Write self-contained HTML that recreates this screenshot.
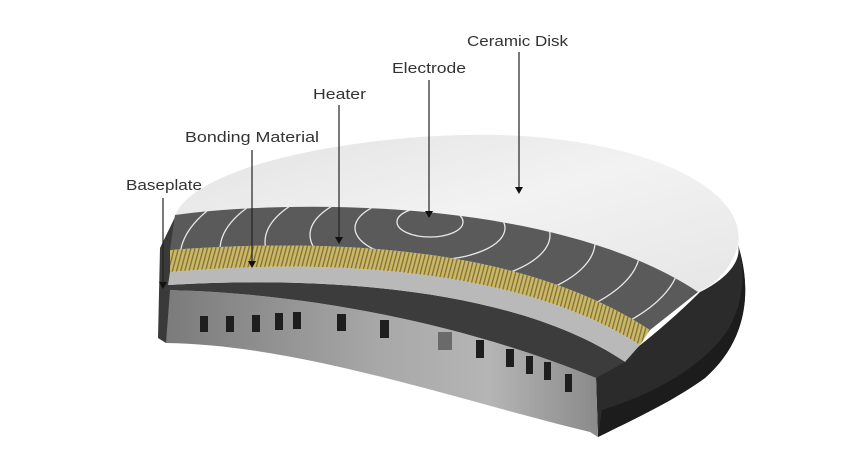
<!DOCTYPE html>
<html><head><meta charset="utf-8"><style>
html,body{margin:0;padding:0;background:#fff;}
svg{display:block;}
text{font-family:"Liberation Sans",sans-serif;font-size:15px;fill:#333;}
</style></head><body>
<svg width="861" height="465" viewBox="0 0 861 465" xmlns="http://www.w3.org/2000/svg">
<defs>
<linearGradient id="wall" x1="0" y1="0" x2="1" y2="0">
<stop offset="0" stop-color="#7a7a7a"/><stop offset="0.5" stop-color="#a8a8a8"/><stop offset="0.75" stop-color="#b5b5b5"/><stop offset="1" stop-color="#8a8a8a"/>
</linearGradient>
<linearGradient id="disk" x1="0" y1="0" x2="1" y2="1">
<stop offset="0" stop-color="#e2e2e2"/><stop offset="0.5" stop-color="#f2f2f2"/><stop offset="1" stop-color="#e6e6e6"/>
</linearGradient>
<pattern id="heat" width="4" height="10" patternUnits="userSpaceOnUse" patternTransform="rotate(15)">
<rect width="4" height="10" fill="#cdb963"/><rect width="1.3" height="10" fill="#7d7040"/>
</pattern>
<clipPath id="band"><path d="M175 215 C300 198 560 200 698 292 L650 330 C520 245 330 238 170 250 Z"/></clipPath>
</defs>

<!-- outer black rim -->
<path d="M700 292 C725 280 742 262 738 245 C752 290 748 340 705 378 C672 402 632 420 598 437 L596 378 C622 360 662 330 700 292 Z" fill="#2b2b2b"/>
<path d="M738 245 C752 290 748 340 705 378 C672 402 632 420 598 437 L602 410 C650 395 700 370 728 330 C745 300 745 270 738 245Z" fill="#1c1c1c"/>

<!-- white disk -->
<path d="M175 215 C200 160 380 132 500 135 C650 140 748 190 738 245 C732 268 715 285 698 292 C560 200 300 198 175 215 Z" fill="url(#disk)"/>

<!-- inner wall -->
<path d="M162 290 C300 292 460 322 596 378 L598 437 L590 432 C450 398 300 345 166 343 Z" fill="url(#wall)"/>
<!-- left cut face -->
<path d="M160 248 L176 215 L170 290 L166 343 L158 338 Z" fill="#3a3a3a"/>

<!-- base plate dark band -->
<path d="M168 285 C330 275 520 290 625 362 L596 378 C460 322 300 292 162 290 Z" fill="#3c3c3c"/>
<!-- bonding light gray -->
<path d="M170 272 C330 258 520 268 640 345 L625 362 C520 290 330 275 168 285 Z" fill="#b9b9b9"/>
<!-- heater -->
<path d="M170 250 C330 238 520 245 650 330 L640 345 C520 268 330 258 170 272 Z" fill="url(#heat)"/>
<!-- electrode band -->
<path d="M175 215 C300 198 560 200 698 292 L650 330 C520 245 330 238 170 250 Z" fill="#5a5a5a"/>
<g clip-path="url(#band)" fill="none" stroke="#e8e8e8" stroke-width="1.3">
<ellipse cx="430" cy="222" rx="33" ry="15"/>
<ellipse cx="430" cy="228" rx="75" ry="32"/>
<ellipse cx="430" cy="235" rx="120" ry="50"/>
<ellipse cx="430" cy="242" rx="165" ry="68"/>
<ellipse cx="430" cy="250" rx="210" ry="86"/>
<ellipse cx="430" cy="258" rx="250" ry="104"/>
<ellipse cx="430" cy="266" rx="290" ry="122"/>
<ellipse cx="430" cy="274" rx="330" ry="140"/>
</g>

<!-- slots -->
<g fill="#1e1e1e">
<rect x="200" y="316" width="8" height="16"/>
<rect x="226" y="316" width="8" height="16"/>
<rect x="252" y="315" width="8" height="17"/>
<rect x="275" y="313" width="8" height="17"/>
<rect x="293" y="312" width="8" height="17"/>
<rect x="337" y="314" width="9" height="17"/>
<rect x="380" y="320" width="9" height="18"/>
<rect x="438" y="332" width="14" height="18" fill="#6a6a6a"/>
<rect x="476" y="340" width="8" height="18"/>
<rect x="506" y="349" width="8" height="18"/>
<rect x="526" y="356" width="7" height="18"/>
<rect x="544" y="362" width="7" height="18"/>
<rect x="565" y="374" width="7" height="18"/>
</g>

<!-- labels -->
<text x="467" y="46" textLength="101" lengthAdjust="spacingAndGlyphs">Ceramic Disk</text>
<text x="392" y="73" textLength="74" lengthAdjust="spacingAndGlyphs">Electrode</text>
<text x="313" y="99" textLength="53" lengthAdjust="spacingAndGlyphs">Heater</text>
<text x="185" y="142" textLength="134" lengthAdjust="spacingAndGlyphs">Bonding Material</text>
<text x="126" y="190" textLength="76" lengthAdjust="spacingAndGlyphs">Baseplate</text>

<g stroke="#222" stroke-width="1.2">
<line x1="519" y1="52" x2="519" y2="188"/>
<line x1="429" y1="80" x2="429" y2="212"/>
<line x1="339" y1="105" x2="339" y2="238"/>
<line x1="252" y1="150" x2="252" y2="262"/>
<line x1="163" y1="198" x2="163" y2="283"/>
</g>
<g fill="#111">
<path d="M515 187 L523 187 L519 194 Z"/>
<path d="M425 211 L433 211 L429 218 Z"/>
<path d="M335 237 L343 237 L339 244 Z"/>
<path d="M248 261 L256 261 L252 268 Z"/>
<path d="M159 282 L167 282 L163 289 Z"/>
</g>
</svg>
</body></html>
